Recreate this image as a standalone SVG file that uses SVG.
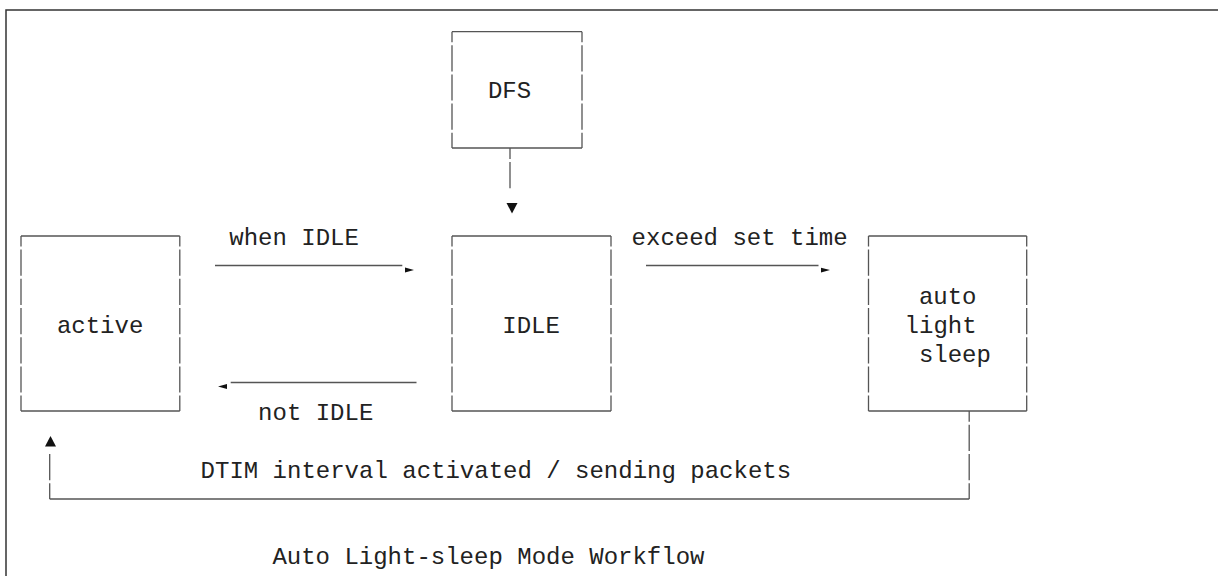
<svg xmlns="http://www.w3.org/2000/svg" width="1218" height="576" viewBox="0 0 1218 576">
<style>
.t{font-family:"Liberation Mono","Courier New",monospace;font-size:24px;fill:#222}
.h{stroke:#555;stroke-width:1.3;fill:none}
.v{stroke:#555;stroke-width:1.3;fill:none;stroke-dasharray:26.2 3}
.ah{fill:#111}
</style>
<rect width="1218" height="576" fill="#fff"/>
<path d="M6 576V10H1218" fill="none" stroke="#333" stroke-width="1.5"/>
<g id="node-dfs">
<line class="h" x1="452" y1="31.7" x2="582" y2="31.7"/>
<line class="h" x1="452" y1="148" x2="582" y2="148"/>
<line class="v" x1="452" y1="31.7" x2="452" y2="148" stroke-dashoffset="15.7"/>
<line class="v" x1="582" y1="31.7" x2="582" y2="148" stroke-dashoffset="15.7"/>
<text class="t" x="487.9" y="98">DFS</text>
</g>
<g id="node-active">
<line class="h" x1="21" y1="236" x2="179.8" y2="236"/>
<line class="h" x1="21" y1="411" x2="179.8" y2="411"/>
<line class="v" x1="21" y1="236" x2="21" y2="411" stroke-dashoffset="220"/>
<line class="v" x1="179.8" y1="236" x2="179.8" y2="411" stroke-dashoffset="220"/>
<text class="t" x="56.9" y="332.7">active</text>
</g>
<g id="node-idle">
<line class="h" x1="452" y1="236" x2="611" y2="236"/>
<line class="h" x1="452" y1="411" x2="611" y2="411"/>
<line class="v" x1="452" y1="236" x2="452" y2="411" stroke-dashoffset="220"/>
<line class="v" x1="611" y1="236" x2="611" y2="411" stroke-dashoffset="220"/>
<text class="t" x="502.3" y="332.7">IDLE</text>
</g>
<g id="node-sleep">
<line class="h" x1="868.5" y1="236" x2="1026.7" y2="236"/>
<line class="h" x1="868.5" y1="411" x2="1026.7" y2="411"/>
<line class="v" x1="868.5" y1="236" x2="868.5" y2="411" stroke-dashoffset="220"/>
<line class="v" x1="1026.7" y1="236" x2="1026.7" y2="411" stroke-dashoffset="220"/>
<text class="t" x="918.9" y="303.5">auto</text>
<text class="t" x="904.6" y="332.7">light</text>
<text class="t" x="918.9" y="361.9">sleep</text>
</g>
<g id="connectors">
<line class="v" x1="510" y1="148" x2="510" y2="188.2" stroke-dashoffset="132"/>
<polygon class="ah" points="506.5,203 517.5,203 512,213.5"/>
<line class="h" x1="215" y1="265.5" x2="402.3" y2="265.5"/>
<polygon class="ah" points="405,267.5 405,272.5 414,270"/>
<text class="t" x="229.3" y="245">when IDLE</text>
<line class="h" x1="646" y1="265.5" x2="818.5" y2="265.5"/>
<polygon class="ah" points="821,267.7 821,272.5 830,270.1"/>
<text class="t" x="631.6" y="245">exceed set time</text>
<line class="h" x1="230.7" y1="382.5" x2="416.5" y2="382.5"/>
<polygon class="ah" points="227,384 227,389 218,386.5"/>
<text class="t" x="258.1" y="420.3">not IDLE</text>
<line class="v" x1="969.2" y1="411" x2="969.2" y2="499" stroke-dashoffset="395"/>
<line class="h" x1="49.7" y1="499" x2="969.2" y2="499"/>
<line class="v" x1="49.7" y1="454" x2="49.7" y2="499" stroke-dashoffset="438"/>
<polygon class="ah" points="45,446.5 56,446.5 50.5,436"/>
<text class="t" x="200.6" y="478">DTIM interval activated / sending packets</text>
</g>
<text class="t" x="272.4" y="564">Auto Light-sleep Mode Workflow</text>
</svg>
